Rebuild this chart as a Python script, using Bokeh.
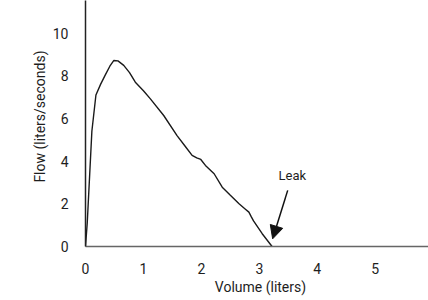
from bokeh.plotting import figure
from bokeh.models import Range1d, Label, Arrow, NormalHead, FixedTicker
from bokeh.embed import file_html
from bokeh.resources import INLINE

# Data
volume = [0.0, 0.03, 0.11, 0.18, 0.26, 0.34, 0.42, 0.49, 0.56, 0.66, 0.76, 0.86,
          1.0, 1.12, 1.35, 1.58, 1.72, 1.84, 1.92, 1.99, 2.07, 2.22, 2.36, 2.5,
          2.65, 2.76, 2.82, 2.86, 2.9, 3.05, 3.22]
flow = [0.0, 1.1, 5.4, 7.1, 7.6, 8.03, 8.45, 8.72, 8.7, 8.49, 8.15, 7.70,
        7.3, 6.92, 6.14, 5.20, 4.7, 4.27, 4.15, 4.08, 3.80, 3.41, 2.78, 2.4,
        2.0, 1.75, 1.61, 1.4, 1.2, 0.6, 0.0]
x_ticks = [0, 1, 2, 3, 4, 5]
y_ticks = [0, 2, 4, 6, 8, 10]
x_label = "\u00a0\u00a0Volume (liters)"
y_label = "\u00a0\u00a0\u00a0\u00a0Flow (liters/seconds)"
annotation_text = "Leak"
arrow_start = (3.49, 2.63)
arrow_end = (3.23, 0.36)
annotation_pos = (3.57, 3.33)

FONT = "Roboto"
TXT = "#1e1e1e"

p = figure(width=428, height=300, output_backend="svg", toolbar_location=None,
           x_range=Range1d(0, 5.92), y_range=Range1d(0, 11.53),
           min_border_left=85, min_border_right=0, min_border_top=0, min_border_bottom=54)
p.outline_line_color = None
p.grid.visible = False

for ax in (p.xaxis[0], p.yaxis[0]):
    ax.major_tick_line_color = None
    ax.minor_tick_line_color = None
    ax.major_label_text_font = FONT
    ax.major_label_text_font_size = "14px"
    ax.major_label_text_color = TXT
    ax.axis_line_width = 1.5
    ax.axis_label_text_font = FONT
    ax.axis_label_text_font_size = "14px"
    ax.axis_label_text_font_style = "normal"
    ax.axis_label_text_color = TXT

p.xaxis.ticker = FixedTicker(ticks=x_ticks)
p.yaxis.ticker = FixedTicker(ticks=y_ticks)
p.xaxis.axis_line_color = "#666666"
p.yaxis.axis_line_color = "#222222"
p.xaxis.major_label_standoff = 10
p.yaxis.major_label_standoff = 11
p.xaxis.axis_label = x_label
p.yaxis.axis_label = y_label
p.xaxis.axis_label_standoff = 2
p.yaxis.axis_label_standoff = 2

p.line(volume, flow, line_color="#1a1a1a", line_width=1.4)

p.add_layout(Arrow(end=NormalHead(size=13, fill_color="#111111", line_color="#111111"),
                   x_start=arrow_start[0], y_start=arrow_start[1],
                   x_end=arrow_end[0], y_end=arrow_end[1],
                   line_color="#111111", line_width=1.5))

p.add_layout(Label(x=annotation_pos[0], y=annotation_pos[1], text=annotation_text,
                   text_font=FONT, text_font_size="13px", text_color=TXT,
                   text_align="center", text_baseline="middle"))

open("out.html", "w").write(file_html(p, INLINE))
